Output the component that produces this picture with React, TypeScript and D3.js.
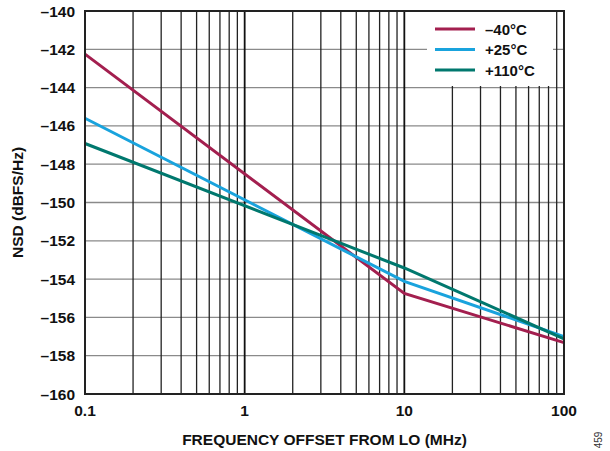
import React from "react";
import * as d3 from "d3";

const freqs = [0.1, 10, 100];
const seriesNames = ["\u201340°C", "+25°C", "+110°C"];
const seriesColors = ["#A31F4F", "#19A3DD", "#00786E"];
const valsM40 = [-142.25, -154.75, -157.32];
const valsP25 = [-145.6, -154.12, -157.0];
const valsP110 = [-146.92, -153.42, -157.12];
const yTicks = [-140, -142, -144, -146, -148, -150, -152, -154, -156, -158, -160];
const xTicks = [0.1, 1, 10, 100];

export default function App() {
  const W = 610, H = 451;
  const L = 85, R = 564, T = 11, B = 394;
  const x = d3.scaleLog().domain([0.1, 100]).range([L, R]);
  const y = d3.scaleLinear().domain([-160, -140]).range([B, T]);
  const series = [valsM40, valsP25, valsP110];
  const line = d3.line<[number, number]>().x(d => x(d[0])).y(d => y(d[1]));
  const minor: number[] = [];
  for (let dec = 0.1; dec < 100; dec *= 10) {
    for (let k = 2; k <= 9; k++) minor.push(dec * k);
  }
  const font = "'Liberation Sans', Arial, sans-serif";
  const leg = { x0: 427, x1: 553, y0: T, y1: 86 };
  return (
    <svg width={W} height={H} style={{ position: "absolute", left: 0, top: 0 }} fontFamily={font}>
      <rect width={W} height={H} fill="white" />
      {yTicks.map(t => (
        <line key={"h" + t} x1={L} x2={R} y1={y(t)} y2={y(t)} stroke="#8a8a8a" strokeWidth={1.3} />
      ))}
      {minor.map(m => (
        <line key={"v" + m} x1={x(m)} x2={x(m)} y1={T} y2={B} stroke="#222" strokeWidth={1.3} />
      ))}
      {xTicks.map(t => (
        <line key={"d" + t} x1={x(t)} x2={x(t)} y1={T} y2={B} stroke="#111" strokeWidth={1.8} />
      ))}
      <rect x={leg.x0} y={leg.y0} width={leg.x1 - leg.x0} height={leg.y1 - leg.y0} fill="white" />
      {series.map((s, i) => (
        <path key={"s" + i} d={line(freqs.map((f, j) => [f, s[j]]) as [number, number][]) || ""} fill="none" stroke={seriesColors[i]} strokeWidth={3} />
      ))}
      <rect x={L} y={T} width={R - L} height={B - T} fill="none" stroke="#222" strokeWidth={2} />
      {seriesNames.map((n, i) => (
        <g key={"l" + i}>
          <line x1={435} x2={475} y1={29 + i * 20.5} y2={29 + i * 20.5} stroke={seriesColors[i]} strokeWidth={3} />
          <text x={485} y={29 + i * 20.5 + 5.5} fontSize={15} fontWeight="bold" fill="#111">{n}</text>
        </g>
      ))}
      {yTicks.map(t => (
        <text key={"yt" + t} x={75} y={y(t) + 5.5} textAnchor="end" fontSize={15.5} fontWeight="bold" fill="#111">
          {"\u2013" + Math.abs(t)}
        </text>
      ))}
      {xTicks.map(t => (
        <text key={"xt" + t} x={x(t)} y={416} textAnchor="middle" fontSize={15.5} fontWeight="bold" fill="#111">
          {String(t)}
        </text>
      ))}
      <text x={18} y={(T + B) / 2} transform={`rotate(-90 18 ${(T + B) / 2})`} textAnchor="middle" fontSize={15.5} fontWeight="bold" fill="#111" dy={5}>
        NSD (dBFS/Hz)
      </text>
      <text x={(L + R) / 2} y={445} textAnchor="middle" fontSize={15.5} fontWeight="bold" fill="#111">
        FREQUENCY OFFSET FROM LO (MHz)
      </text>
      <text x={602} y={440} transform="rotate(-90 602 440)" textAnchor="middle" fontSize={10} fill="#333">459</text>
    </svg>
  );
}
